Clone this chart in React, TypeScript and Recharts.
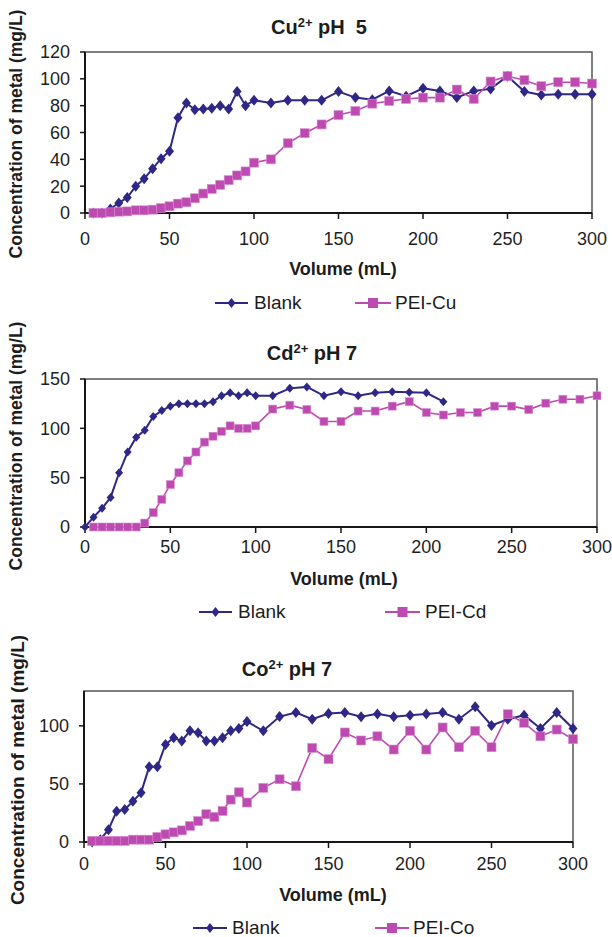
import { LineChart, Line, XAxis, YAxis, ReferenceArea } from 'recharts';

const FONT = '"Liberation Sans", Arial, sans-serif';
const NAVY = '#2f2785';
const PINK = '#bd4ab1';
const AXIS = '#161616';

const volumeTicks = [0, 50, 100, 150, 200, 250, 300];

// Cu2+ pH 5
const cuVolumes = [5, 10, 15, 20, 25, 30, 35, 40, 45, 50, 55, 60, 65, 70, 75, 80, 85, 90, 95, 100,
    110, 120, 130, 140, 150, 160, 170, 180, 190, 200, 210, 220, 230, 240, 250, 260, 270, 280, 290, 300];
const cuBlank = [0, 0, 3, 7.5, 11.5, 20, 25.5, 33, 40.5, 46, 71, 82, 77, 77.5, 78, 80, 77.5, 90.5, 80, 84,
    82, 84, 84, 84, 90.5, 86, 84.5, 91, 87, 93, 91, 86, 91, 92.5, 102, 90.5, 88, 88.5, 88.5, 88.5];
const cuPei = [0, 0, 0.5, 1, 1.2, 2, 2, 2.5, 3.7, 5, 7, 8, 11, 14.5, 18, 21, 24.5, 28, 31, 37.5,
    40, 52, 59.5, 66, 73, 76, 81.5, 83.5, 85, 86, 86, 92, 85, 98, 102, 99, 94.5, 97.5, 97.5, 96.5];
const cuTicks = [0, 20, 40, 60, 80, 100, 120];

// Cd2+ pH 7
const cdBlankVolumes = [0, 5, 10, 15, 20, 25, 30, 35, 40, 45, 50, 55, 60, 65, 70, 75, 80, 85, 90, 95, 100,
    110, 120, 130, 140, 150, 160, 170, 180, 190, 200, 210];
const cdBlank = [0, 10, 19, 30, 55, 76, 91, 98, 112, 118, 122.5, 125, 125, 125, 125, 127, 133, 136, 133, 136, 133,
    133, 140.5, 142, 133, 137, 133, 136, 137, 136.5, 136, 127];
const cdPeiVolumes = [5, 10, 15, 20, 25, 30, 35, 40, 45, 50, 55, 60, 65, 70, 75, 80, 85, 90, 95, 100,
    110, 120, 130, 140, 150, 160, 170, 180, 190, 200, 210, 220, 230, 240, 250, 260, 270, 280, 290, 300];
const cdPei = [0, 0, 0, 0, 0, 0, 4, 14.5, 28, 43, 55, 67, 76, 86, 92, 97, 102.5, 100, 100, 102.5,
    119.5, 123.5, 119, 107, 107, 117.5, 117.5, 122.5, 127, 116, 113.5, 116, 116, 122.5, 122.5, 119, 125.5, 129.5, 129.5, 133];
const cdTicks = [0, 50, 100, 150];

// Co2+ pH 7
const coVolumes = [5, 10, 15, 20, 25, 30, 35, 40, 45, 50, 55, 60, 65, 70, 75, 80, 85, 90, 95, 100,
    110, 120, 130, 140, 150, 160, 170, 180, 190, 200, 210, 220, 230, 240, 250, 260, 270, 280, 290, 300];
const coBlank = [0, 2, 10.6, 26.4, 28, 35, 42.5, 64.7, 64.7, 84, 89.7, 87, 95.7, 94, 87, 87, 89.7, 95.7, 97.7, 103.7,
    95.7, 108, 111.5, 105.7, 110.6, 111.5, 107.8, 110.3, 107.8, 109.2, 110.3, 111.5, 105.7, 116.4, 100.3, 105.7, 109.2, 97.7, 111.5, 97.7];
const coPei = [1, 1, 1, 1, 1, 2, 2, 2, 4.3, 6.6, 8.3, 10, 13.8, 18, 23.9, 21.6, 26.7, 36.5, 42.8, 34,
    46.6, 54, 48, 81, 71.3, 94.3, 87.4, 91, 79.6, 95.7, 79.6, 98.6, 81.6, 95.7, 81.6, 110, 102.6, 91, 96.8, 88.5];
const coTicks = [0, 50, 100];

const zip = (xs: number[], ys: number[]) => xs.map((v, i) => ({ v, c: ys[i] }));

const diamond = (w: number, h: number) => (p: any) => (
    <path key={`d${p.index}`} d={`M${p.cx},${p.cy - h}L${p.cx + w},${p.cy}L${p.cx},${p.cy + h}L${p.cx - w},${p.cy}Z`} fill={NAVY} />
);
const square = (s: number) => (p: any) => (
    <rect key={`s${p.index}`} x={p.cx - s / 2} y={p.cy - s / 2} width={s} height={s} fill={PINK} stroke="#d98fd0" strokeWidth={0.6} />
);

// tick labels drawn by hand so the size is exact
const xTick = (p: any) => (
    <text x={p.x} y={p.y} dy="0.71em" textAnchor="middle" fill="#1e1e1e" fontSize={18} fontFamily={FONT}>{p.payload.value}</text>
);
const yTick = (p: any) => (
    <text x={p.x} y={p.y} dy="0.36em" textAnchor="end" fill="#1e1e1e" fontSize={18} fontFamily={FONT}>{p.payload.value}</text>
);

function Panel({ top, height, margin, yWidth, yMax, yTicks, xTickMargin, blank, pei, dw, dh, sq }: any) {
    return (
        <div style={{ position: 'absolute', left: 0, top, width: 612, height }}>
            <LineChart width={612} height={height} margin={margin}>
                <ReferenceArea x1={0} x2={300} y1={0} y2={yMax} fill="none" stroke="#555" strokeWidth={1.5} ifOverflow="visible" />
                <XAxis
                    type="number"
                    dataKey="v"
                    domain={[0, 300]}
                    ticks={volumeTicks}
                    interval={0}
                    height={40}
                    tickSize={6}
                    tickMargin={xTickMargin}
                    axisLine={{ stroke: AXIS, strokeWidth: 2 }}
                    tickLine={{ stroke: AXIS, strokeWidth: 1.5 }}
                    tick={xTick}
                />
                <YAxis
                    type="number"
                    domain={[0, yMax]}
                    ticks={yTicks}
                    interval={0}
                    width={yWidth}
                    tickSize={5}
                    tickMargin={10}
                    axisLine={{ stroke: AXIS, strokeWidth: 2 }}
                    tickLine={{ stroke: AXIS, strokeWidth: 1.5 }}
                    tick={yTick}
                />
                <Line data={blank} dataKey="c" stroke={NAVY} strokeWidth={2} dot={diamond(dw, dh)} activeDot={false} isAnimationActive={false} />
                <Line data={pei} dataKey="c" stroke={PINK} strokeWidth={1.6} dot={square(sq)} activeDot={false} isAnimationActive={false} />
            </LineChart>
        </div>
    );
}

const centered = (x: number, y: number, extra: any = {}): any => ({
    position: 'absolute', left: x, top: y, transform: 'translate(-50%, -50%)', whiteSpace: 'pre', lineHeight: 1, ...extra,
});

function Title({ x, y, el, rest }: any) {
    return (
        <div style={centered(x, y, { fontWeight: 'bold', fontSize: 20 })}>
            {el}<sup style={{ fontSize: 13, verticalAlign: 7 }}>2+</sup>{' ' + rest}
        </div>
    );
}

function YLabel({ x, y, size }: any) {
    return (
        <div style={centered(x, y, { fontWeight: 'bold', fontSize: size, transform: 'translate(-50%, -50%) rotate(-90deg)' })}>
            Concentration of metal (mg/L)
        </div>
    );
}

function XLabel({ x, y }: any) {
    return <div style={centered(x, y, { fontWeight: 'bold', fontSize: 18 })}>Volume (mL)</div>;
}

function LegendItem({ x1, x2, textX, y, kind, label }: any) {
    const mid = (x1 + x2) / 2;
    return (
        <>
            <svg style={{ position: 'absolute', left: 0, top: y - 10, overflow: 'visible' }} width={612} height={20}>
                <line x1={x1} x2={x2} y1={10} y2={10} stroke={kind === 'd' ? NAVY : PINK} strokeWidth={2} />
                {kind === 'd'
                    ? <path d={`M${mid},5L${mid + 4},10L${mid},15L${mid - 4},10Z`} fill={NAVY} />
                    : <rect x={mid - 5} y={5} width={10} height={10} fill={PINK} />}
            </svg>
            <div style={{ position: 'absolute', left: textX, top: y - 11, fontSize: 19, lineHeight: '22px', whiteSpace: 'nowrap' }}>{label}</div>
        </>
    );
}

export default function App() {
    return (
        <div style={{ position: 'absolute', left: 0, top: 0, width: 612, height: 937, background: '#fff', fontFamily: FONT, color: '#1c1c1c', overflow: 'hidden' }}>
            <Panel top={0} height={260} margin={{ top: 52, right: 20, left: 0, bottom: 7 }} yWidth={85} yMax={120} yTicks={cuTicks}
                xTickMargin={13} blank={zip(cuVolumes, cuBlank)} pei={zip(cuVolumes, cuPei)} dw={4.5} dh={5.5} sq={9} />
            <Panel top={320} height={260} margin={{ top: 59, right: 15, left: 0, bottom: 13 }} yWidth={85} yMax={150} yTicks={cdTicks}
                xTickMargin={7} blank={zip(cdBlankVolumes, cdBlank)} pei={zip(cdPeiVolumes, cdPei)} dw={4} dh={4.5} sq={8} />
            <Panel top={640} height={260} margin={{ top: 51, right: 39, left: 0, bottom: 18 }} yWidth={84} yMax={130} yTicks={coTicks}
                xTickMargin={9} blank={zip(coVolumes, coBlank)} pei={zip(coVolumes, coPei)} dw={4.5} dh={5.5} sq={9} />

            <Title x={319} y={26} el="Cu" rest="pH  5" />
            <YLabel x={17} y={134} size={17.5} />
            <XLabel x={343} y={269} />
            <LegendItem x1={215} x2={248} textX={254} y={303} kind="d" label="Blank" />
            <LegendItem x1={355} x2={391} textX={395} y={303} kind="s" label="PEI-Cu" />

            <Title x={312} y={352} el="Cd" rest="pH 7" />
            <YLabel x={17} y={446} size={17.5} />
            <XLabel x={344} y={579} />
            <LegendItem x1={199} x2={232} textX={238} y={612} kind="d" label="Blank" />
            <LegendItem x1={385} x2={420} textX={425} y={612} kind="s" label="PEI-Cd" />

            <Title x={287} y={668} el="Co" rest="pH 7" />
            <YLabel x={17} y={770} size={19} />
            <XLabel x={333} y={895} />
            <LegendItem x1={193} x2={227} textX={232} y={928} kind="d" label="Blank" />
            <LegendItem x1={375} x2={409} textX={413} y={928} kind="s" label="PEI-Co" />
        </div>
    );
}
